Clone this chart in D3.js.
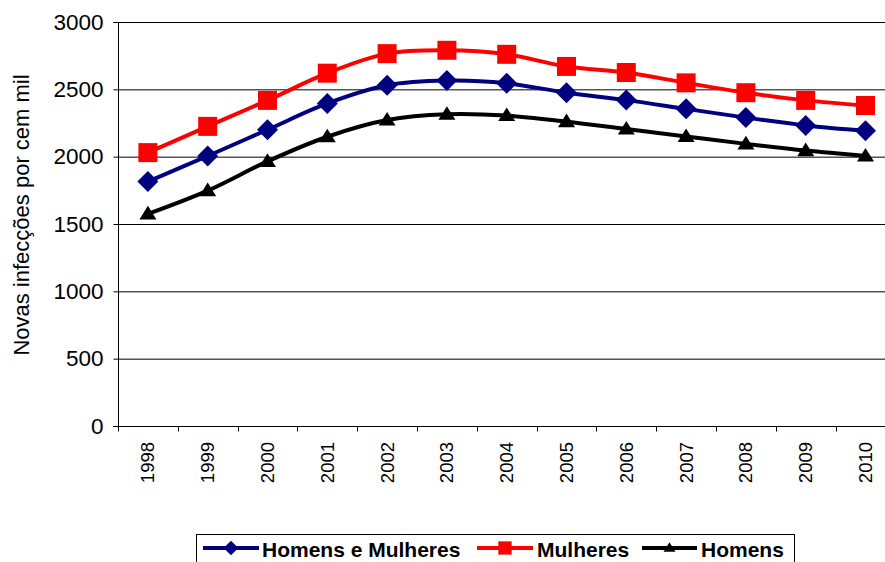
<!DOCTYPE html>
<html>
<head>
<meta charset="utf-8">
<script src="https://cdn.jsdelivr.net/npm/d3@7"></script>
<style>
html,body{margin:0;padding:0;background:#fff;}
svg{display:block;font-family:"Liberation Sans",Arial,sans-serif;}
</style>
</head>
<body>
<svg id="chart" width="885" height="562"></svg>
<script>
const years = ["1998","1999","2000","2001","2002","2003","2004","2005","2006","2007","2008","2009","2010"];
const ambos = [1815, 2005, 2200, 2395, 2530, 2565, 2545, 2475, 2420, 2355, 2290, 2232, 2192];
const mulheres = [2030, 2225, 2418, 2620, 2765, 2790, 2760, 2670, 2625, 2548, 2475, 2418, 2380];
const homens = [1575, 1748, 1965, 2148, 2272, 2315, 2305, 2260, 2205, 2150, 2095, 2045, 2005];
const yTicks = [0, 500, 1000, 1500, 2000, 2500, 3000];
const seriesNames = ["Homens e Mulheres", "Mulheres", "Homens"];

const svg = d3.select("#chart");
const pLeft = 118, pTop = 22, pBottom = 426, step = 59.8;
const pRight = pLeft + step * years.length;

const x = d3.scaleBand().domain(years).range([pLeft, pRight]).padding(0);
const y = d3.scaleLinear().domain([0, 3000]).range([pBottom, pTop]);

// gridlines
svg.append("g").selectAll("line").data(yTicks.filter(d => d > 0)).join("line")
  .attr("x1", pLeft).attr("x2", pRight)
  .attr("y1", d => y(d) + 0.5).attr("y2", d => y(d) + 0.5)
  .attr("stroke", "#000").attr("stroke-width", 1);

// y axis
const yAxis = svg.append("g").attr("transform", `translate(${pLeft + 0.5},0)`)
  .call(d3.axisLeft(y).tickValues(yTicks).tickSize(5).tickPadding(10).tickFormat(d3.format("d")));
yAxis.select(".domain").attr("stroke", "#000").attr("d", `M-5,${pTop + 0.5}H0V${pBottom + 0.5}H-5`);
yAxis.selectAll(".tick line").attr("stroke", "#000");
yAxis.selectAll(".tick text").attr("font-size", 22.5).attr("fill", "#000")
  .attr("font-family", "Liberation Sans, Arial, sans-serif");

// x axis
const xAxis = svg.append("g").attr("transform", `translate(0,${pBottom + 0.5})`);
xAxis.append("line").attr("x1", pLeft - 5).attr("x2", pRight).attr("y1", 0).attr("y2", 0).attr("stroke", "#000");
xAxis.selectAll("line.tk").data(years).join("line").attr("class", "tk")
  .attr("x1", d => Math.round(x(d)) + 0.5).attr("x2", d => Math.round(x(d)) + 0.5)
  .attr("y1", 0).attr("y2", 5).attr("stroke", "#000");
xAxis.selectAll("text").data(years).join("text")
  .attr("transform", d => `translate(${x(d) + x.bandwidth() / 2 + 6.5},15.5) rotate(-90)`)
  .attr("text-anchor", "end")
  .attr("font-size", 18.5).attr("fill", "#000")
  .text(d => d);

// y axis title
svg.append("text")
  .attr("transform", `translate(29,215) rotate(-90)`)
  .attr("text-anchor", "middle").attr("font-size", 22).attr("fill", "#000")
  .text("Novas infecções por cem mil");

const cx = d => x(d) + x.bandwidth() / 2;
const line = d3.line().x((d, i) => cx(years[i])).y(d => y(d)).curve(d3.curveCatmullRom.alpha(0.5));

const diamond = r => `M0,${-r}L${r},0L0,${r}L${-r},0Z`;
const square = r => `M${-r},${-r}H${r}V${r}H${-r}Z`;
const triangle = r => `M0,${-r * 0.95}L${r},${r * 0.65}L${-r},${r * 0.65}Z`;

const series = [
  { name: seriesNames[0], values: ambos, color: "#000080", shape: diamond, r: 10.5 },
  { name: seriesNames[1], values: mulheres, color: "#FF0000", shape: square, r: 9.5 },
  { name: seriesNames[2], values: homens, color: "#000000", shape: triangle, r: 8.5 }
];

// draw order: homens, ambos, mulheres
[series[2], series[0], series[1]].forEach(s => {
  const g = svg.append("g");
  g.append("path").attr("d", line(s.values)).attr("fill", "none")
    .attr("stroke", s.color).attr("stroke-width", 4).attr("stroke-linejoin", "round");
  g.selectAll("path.m").data(s.values).join("path").attr("class", "m")
    .attr("transform", (d, i) => `translate(${cx(years[i])},${y(d)})`)
    .attr("d", s.shape(s.r))
    .attr("fill", s.color);
});

// legend
const lg = svg.append("g");
lg.append("rect").attr("x", 196.5).attr("y", 534.5).attr("width", 598).attr("height", 60)
  .attr("fill", "#fff").attr("stroke", "#000").attr("stroke-width", 1);
const legendItems = [
  { s: series[0], x0: 203, x1: 259, tx: 262 },
  { s: series[1], x0: 477, x1: 533, tx: 537 },
  { s: series[2], x0: 642, x1: 697, tx: 701 }
];
const ly = 548;
legendItems.forEach(it => {
  lg.append("line").attr("x1", it.x0).attr("x2", it.x1).attr("y1", ly).attr("y2", ly)
    .attr("stroke", it.s.color).attr("stroke-width", 4);
  lg.append("path").attr("transform", `translate(${(it.x0 + it.x1) / 2},${ly})`)
    .attr("d", it.s.shape(it.s.r * 0.7)).attr("fill", it.s.color);
  lg.append("text").attr("x", it.tx).attr("y", 557).attr("font-size", 21).attr("font-weight", "bold")
    .attr("fill", "#000").text(it.s.name);
});
</script>
</body>
</html>
